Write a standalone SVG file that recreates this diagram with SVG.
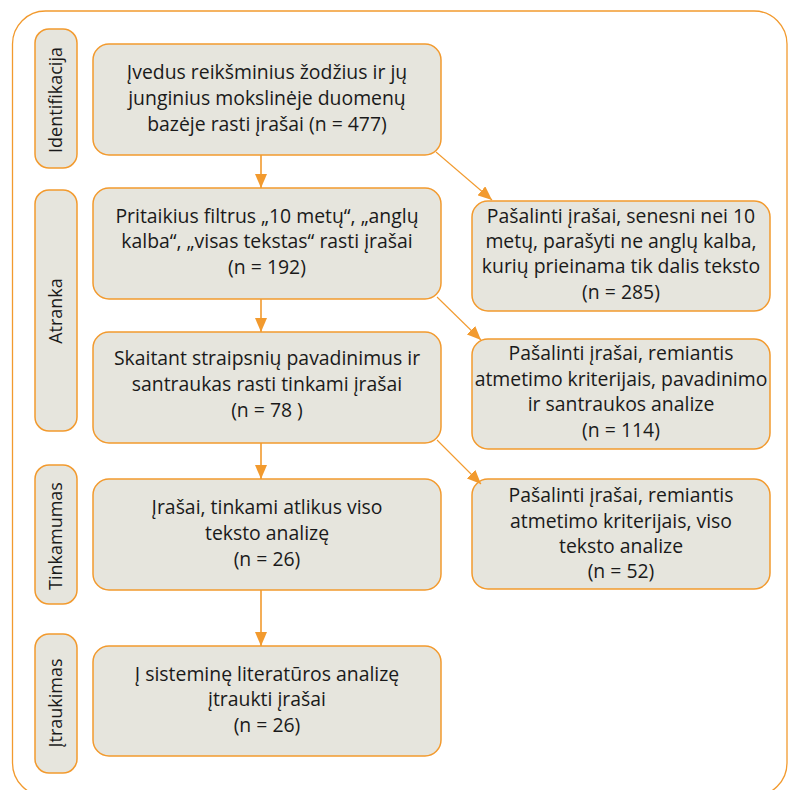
<svg xmlns="http://www.w3.org/2000/svg" width="790" height="790" viewBox="0 0 790 790">
<defs>
<marker id="ah" markerUnits="userSpaceOnUse" markerWidth="14" markerHeight="12" refX="14" refY="6" orient="auto"><path d="M0,0 L14,6 L0,12 Z" fill="#F29A2E"/></marker>
<style>
.frame{fill:#fff;stroke:#F29A2E;stroke-width:1.3}
.box{fill:#E6E5DD;stroke:#F29A2E;stroke-width:1.5}
.pill{fill:#E6E5DD;stroke:#F29A2E;stroke-width:1.5}
.t{font-family:"Open Sans","Noto Sans",sans-serif;font-size:19.4px;fill:#1a1a1a;text-anchor:middle}
.s{font-size:18px}
.c{stroke:#F29A2E;fill:none;marker-end:url(#ah)}
.v{stroke-width:1.6}
.d{stroke-width:1.1}
</style>
</defs>
<rect class="frame" x="12.5" y="11" width="774.5" height="785" rx="33"/>
<g id="stage-identifikacija"><rect class="pill" x="35" y="29" width="42" height="139" rx="14"/><text class="t s" transform="translate(62,100) rotate(-90)">Identifikacija</text></g>
<g id="stage-atranka"><rect class="pill" x="35" y="190" width="42" height="241" rx="14"/><text class="t s" transform="translate(62,311) rotate(-90)">Atranka</text></g>
<g id="stage-tinkamumas"><rect class="pill" x="35" y="465" width="42" height="139" rx="14"/><text class="t s" transform="translate(62,536) rotate(-90)">Tinkamumas</text></g>
<g id="stage-itraukimas"><rect class="pill" x="35" y="634" width="42" height="139" rx="14"/><text class="t s" transform="translate(62,703) rotate(-90)">Įtraukimas</text></g>
<g id="n1"><rect class="box" x="93" y="44" width="348" height="111" rx="16"/><text class="t"><tspan x="267" y="79">Įvedus reikšminius žodžius ir jų</tspan><tspan x="267" y="105">junginius mokslinėje duomenų</tspan><tspan x="267" y="131">bazėje rasti įrašai (n = 477)</tspan></text></g>
<g id="n2"><rect class="box" x="93" y="188" width="348" height="111" rx="16"/><text class="t"><tspan x="267" y="223">Pritaikius filtrus „10 metų“, „anglų</tspan><tspan x="267" y="248">kalba“, „visas tekstas“ rasti įrašai</tspan><tspan x="267" y="274">(n = 192)</tspan></text></g>
<g id="n3"><rect class="box" x="93" y="332" width="348" height="111" rx="16"/><text class="t"><tspan x="267" y="365">Skaitant straipsnių pavadinimus ir</tspan><tspan x="267" y="391">santraukas rasti tinkami įrašai</tspan><tspan x="267" y="417">(n = 78 )</tspan></text></g>
<g id="n4"><rect class="box" x="93" y="479" width="348" height="111" rx="16"/><text class="t"><tspan x="267" y="514">Įrašai, tinkami atlikus viso</tspan><tspan x="267" y="540">teksto analizę</tspan><tspan x="267" y="566">(n = 26)</tspan></text></g>
<g id="n5"><rect class="box" x="93" y="646" width="348" height="110" rx="16"/><text class="t"><tspan x="267" y="681">Į sisteminę literatūros analizę</tspan><tspan x="267" y="706">įtraukti įrašai</tspan><tspan x="267" y="732">(n = 26)</tspan></text></g>
<g id="r1"><rect class="box" x="472" y="201" width="298" height="110" rx="16"/><text class="t"><tspan x="621" y="223">Pašalinti įrašai, senesni nei 10</tspan><tspan x="621" y="248">metų, parašyti ne anglų kalba,</tspan><tspan x="621" y="273">kurių prieinama tik dalis teksto</tspan><tspan x="621" y="299">(n = 285)</tspan></text></g>
<g id="r2"><rect class="box" x="472" y="339" width="298" height="110" rx="16"/><text class="t"><tspan x="621" y="360">Pašalinti įrašai, remiantis</tspan><tspan x="621" y="386">atmetimo kriterijais, pavadinimo</tspan><tspan x="621" y="411">ir santraukos analize</tspan><tspan x="621" y="437">(n = 114)</tspan></text></g>
<g id="r3"><rect class="box" x="472" y="479" width="298" height="110" rx="16"/><text class="t"><tspan x="621" y="502">Pašalinti įrašai, remiantis</tspan><tspan x="621" y="528">atmetimo kriterijais, viso</tspan><tspan x="621" y="553">teksto analize</tspan><tspan x="621" y="578">(n = 52)</tspan></text></g>
<g id="connectors">
<line class="c v" x1="261" y1="155" x2="261" y2="188"/>
<line class="c v" x1="261" y1="299" x2="261" y2="332"/>
<line class="c v" x1="261" y1="443" x2="261" y2="479"/>
<line class="c v" x1="261" y1="590" x2="261" y2="646"/>
<line class="c d" x1="436" y1="152" x2="492" y2="200"/>
<line class="c d" x1="437" y1="297" x2="481" y2="340"/>
<line class="c d" x1="437" y1="440" x2="481" y2="484"/>
</g>
</svg>
